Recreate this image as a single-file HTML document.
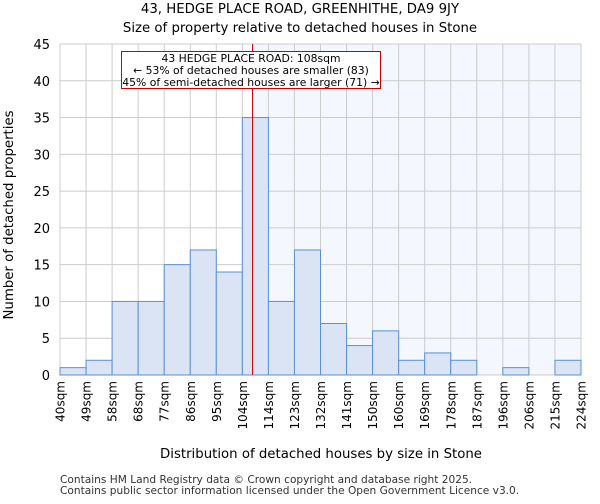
<!DOCTYPE html>
<html><head><meta charset="utf-8"><style>
body{margin:0;background:#fff;font-family:"DejaVu Sans","Liberation Sans",sans-serif}
</style></head><body>
<svg id="c" width="600" height="500" xmlns="http://www.w3.org/2000/svg" font-family="DejaVu Sans, Liberation Sans, sans-serif">
<text x="300" y="13" text-anchor="middle" font-size="13.3">43, HEDGE PLACE ROAD, GREENHITHE, DA9 9JY</text>
<text x="300" y="32" text-anchor="middle" font-size="13.3">Size of property relative to detached houses in Stone</text>
<text x="321" y="458" text-anchor="middle" font-size="13.3">Distribution of detached houses by size in Stone</text>
<text transform="translate(13,215) rotate(-90)" text-anchor="middle" font-size="13.3">Number of detached properties</text>
<text x="60" y="483" font-size="10.6" fill="#333">Contains HM Land Registry data © Crown copyright and database right 2025.</text>
<text x="60" y="494" font-size="10.6" fill="#333">Contains public sector information licensed under the Open Government Licence v3.0.</text>
<g id="plot"></g>
</svg>
<script>
const binLabels=["40sqm","49sqm","58sqm","68sqm","77sqm","86sqm","95sqm","104sqm","114sqm","123sqm","132sqm","141sqm","150sqm","160sqm","169sqm","178sqm","187sqm","196sqm","206sqm","215sqm","224sqm"];
const counts=[1,2,10,10,15,17,14,35,10,17,7,4,6,2,3,2,0,1,0,2];
const yTicks=[0,5,10,15,20,25,30,35,40,45];
const propertySize=108;
const minSize=40, maxSize=224;
const X0=60,X1=581,Y0=375,Y1=44,YMAX=45;
const bw=(X1-X0)/counts.length;
const xs=i=>X0+i*bw;
const xv=v=>X0+(v-minSize)/(maxSize-minSize)*(X1-X0);
const y=v=>Y0-(v/YMAX)*(Y0-Y1);
const NS="http://www.w3.org/2000/svg";
const g=document.getElementById('plot');
function mk(t,a){const e=document.createElementNS(NS,t);for(const k in a)e.setAttribute(k,a[k]);g.appendChild(e);return e;}
const lx=xv(propertySize);
let e=mk('rect',{x:lx,y:Y1,width:X1-lx,height:Y0-Y1,fill:'#f4f7fd'});


for(let i=0;i<binLabels.length;i++){
 e=mk('line',{x1:xs(i),x2:xs(i),y1:Y1,y2:Y0,stroke:'#ccc','stroke-width':1});
 
 
}
yTicks.forEach(t=>{
 e=mk('line',{x1:X0,x2:X1,y1:y(t),y2:y(t),stroke:'#ccc','stroke-width':1});
 
 
 e=mk('text',{x:X0-10,y:y(t)+5,'text-anchor':'end','font-size':13});
 e.textContent=t;
 
 
});
counts.forEach((c,i)=>{
 if(c<=0)return;
 e=mk('rect',{x:xs(i),y:y(c),width:bw,height:Y0-y(c),fill:'#dae4f4',stroke:'#5a8fd6','stroke-width':1});
 
 
});
binLabels.forEach((l,i)=>{
 e=mk('text',{transform:`translate(${xs(i)+4.5},381) rotate(-90)`,'text-anchor':'end','font-size':12});
 e.textContent=l;
 
 
});
e=mk('line',{x1:lx,x2:lx,y1:Y1,y2:Y0,stroke:'#cc0000','stroke-width':1});


e=mk('rect',{x:121.5,y:51.5,width:259,height:37,fill:'#fff',stroke:'#cc0000','stroke-width':1});


const ann=["43 HEDGE PLACE ROAD: 108sqm","← 53% of detached houses are smaller (83)","45% of semi-detached houses are larger (71) →"];
ann.forEach((s,i)=>{
 e=mk('text',{x:251,y:62+i*12,'text-anchor':'middle','font-size':10.8});
 e.textContent=s;
 
 
});
</script>
</body></html>
